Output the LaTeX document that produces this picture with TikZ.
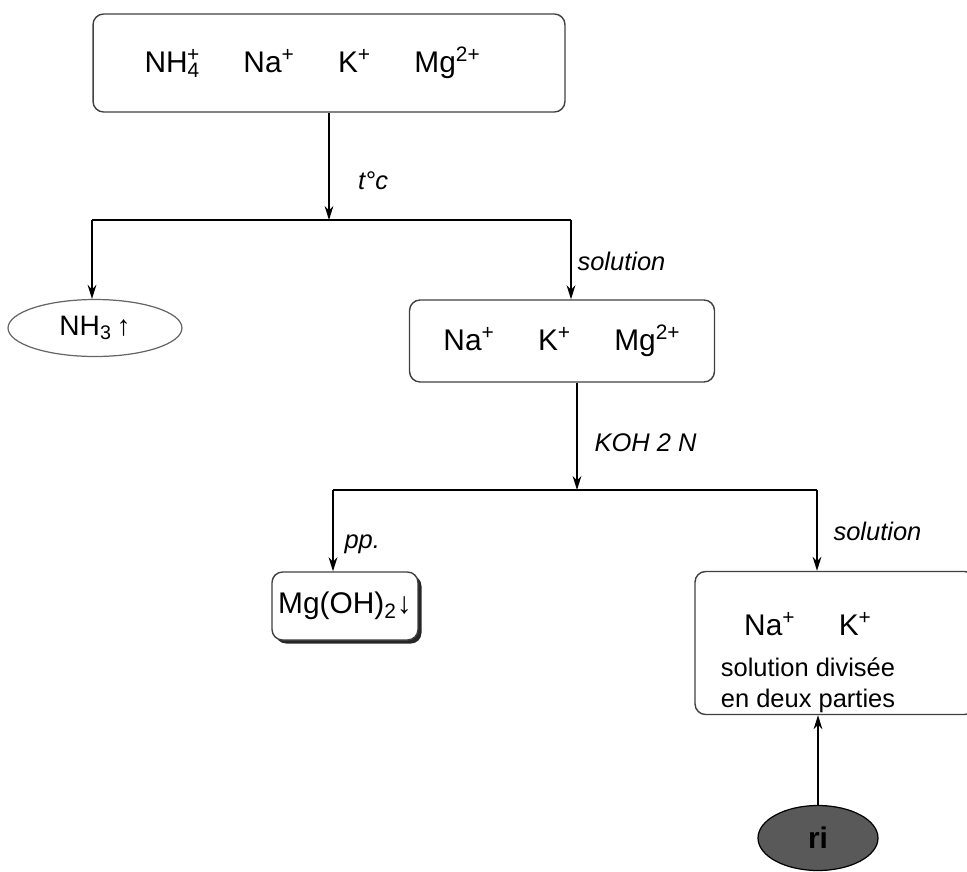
\documentclass[tikz,border=0pt]{standalone}
\usepackage{fontspec}
\setmainfont{Liberation Sans}
\usetikzlibrary{arrows.meta,shapes.geometric,shadows}

\newcommand{\iongap}{\hspace{1.45em}}

\tikzset{
  ionbox/.style={rectangle, draw=black!75, line width=0.8pt, rounded corners=6pt, align=center,
                 font=\fontsize{17}{20}\selectfont},
  gasnode/.style={ellipse, draw=black!60, line width=0.7pt, inner sep=0pt,
                  font=\fontsize{16}{19}\selectfont},
  step label/.style={font=\fontsize{14.5}{17}\selectfont\itshape},
  flow/.style={line width=0.8pt, -{Stealth[length=8pt,width=5pt]}}
}

\begin{document}
\begin{tikzpicture}[x=0.02cm, y=-0.02cm]
\useasboundingbox (0,0) rectangle (967,872);
\clip (0,0) rectangle (967,872);

% cations
\node[ionbox, minimum width=9.44cm, minimum height=1.96cm] (all) at (329,63)
  {NH\textsubscript{4}\llap{\textsuperscript{+}}\iongap Na\textsuperscript{+}\iongap K\textsuperscript{+}\iongap Mg\textsuperscript{2+}\hspace*{1.1em}};
\node[gasnode, minimum width=3.48cm, minimum height=1.14cm] (nh3) at (95,328) {NH\textsubscript{3}\,↑};
\node[ionbox, minimum width=6.1cm, minimum height=1.64cm] (nakmg) at (562,341)
  {Na\textsuperscript{+}\iongap K\textsuperscript{+}\iongap Mg\textsuperscript{2+}};
\node[ionbox, minimum width=2.92cm, minimum height=1.36cm, inner sep=2pt,
      drop shadow={shadow xshift=2pt, shadow yshift=-2pt, fill=black!85, opacity=1}, fill=white]
  (mgoh) at (345,606) {Mg(OH)\textsubscript{2}↓};
\node[ionbox, minimum width=5.6cm, minimum height=2.86cm] (nak) at (835,643) {};
\node[align=center, font=\fontsize{14.5}{18}\selectfont] (naktext) at (808,663)
  {{\fontsize{17}{20}\selectfont Na\textsuperscript{+}\iongap K\textsuperscript{+}}\\[5pt]
   solution divisée\\ en deux parties};
\node[gasnode, draw=black, fill=black!65, minimum width=2.4cm, minimum height=1.3cm,
      font=\fontsize{17}{20}\selectfont\bfseries] (ri) at (818,838) {ri};

% forks
\coordinate (f1) at (329,220);
\coordinate (f1l) at (92,220);
\coordinate (f1r) at (571,220);
\coordinate (f2) at (577,490);
\coordinate (f2l) at (333,490);
\coordinate (f2r) at (817,490);

\draw[flow] (all.south -| f1) -- node[step label, right, pos=0.63, xshift=0.45cm] {t°c} (f1);
\draw[line width=0.8pt] (f1l) -- (f1r);
\draw[flow] (f1l) -- (nh3.north -| f1l);
\draw[flow] (f1r) -- node[step label, right, pos=0.52] {solution} (nakmg.north -| f1r);

\draw[flow] (nakmg.south -| f2) -- node[step label, right, pos=0.56, xshift=0.22cm] {KOH 2 N} (f2);
\draw[line width=0.8pt] (f2l) -- (f2r);
\draw[flow] (f2l) -- node[step label, right, pos=0.67, xshift=0.1cm] {pp.} (mgoh.north -| f2l);
\draw[flow] (f2r) -- node[step label, right, pos=0.51, xshift=0.2cm] {solution} (nak.north -| f2r);

\draw[flow] (ri.north) -- (nak.south -| ri.north);
\end{tikzpicture}
\end{document}
